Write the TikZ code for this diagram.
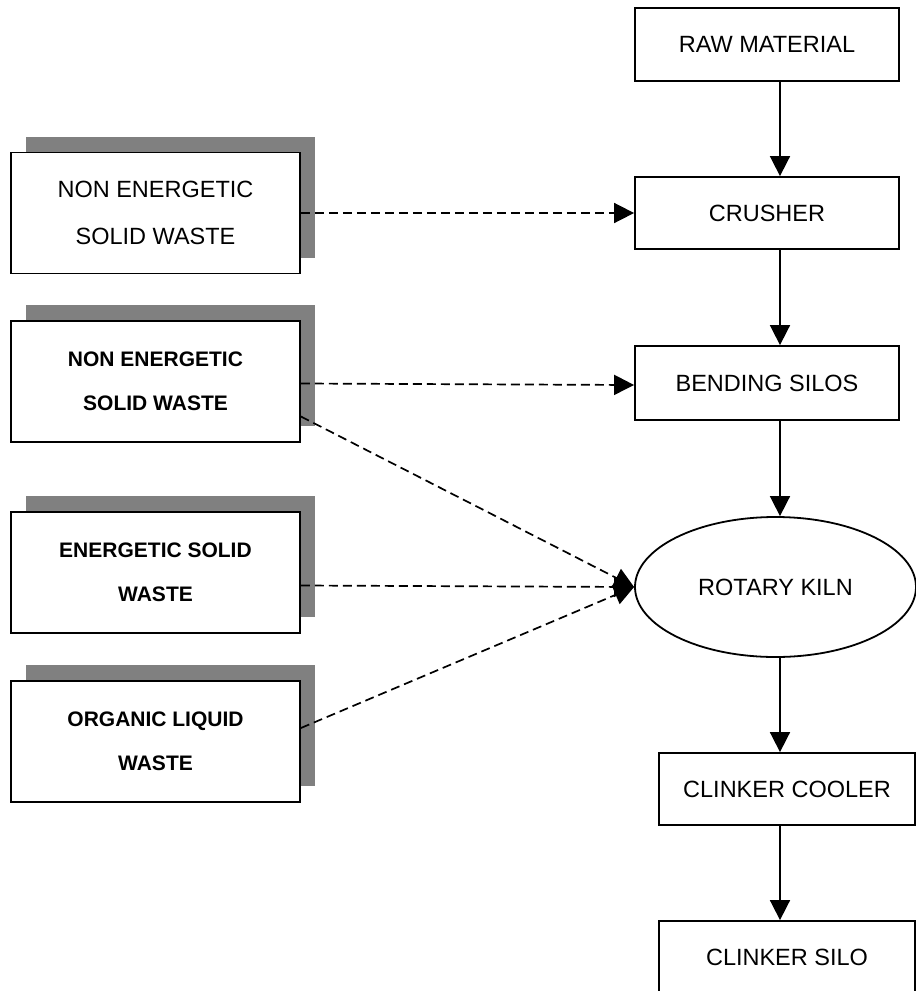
\documentclass[tikz,border=0pt]{standalone}
\usepackage{fontspec}
\setmainfont{Liberation Sans}
\usetikzlibrary{arrows.meta,shapes.geometric,shadows}
\definecolor{shadowgray}{RGB}{128,128,128}
\begin{document}
\begin{tikzpicture}[x=1pt,y=-1pt,
  proc/.style={draw, line width=1.8pt, rectangle, inner sep=0pt, fill=white,
    font=\fontsize{23.5}{28}\selectfont},
  waste/.style={draw, line width=1.8pt, fill=white, minimum width=289pt,
    minimum height=121pt, align=center, inner sep=0pt,
    drop shadow={shadow xshift=15pt, shadow yshift=16pt, opacity=1, fill=shadowgray}},
  light/.style={font=\fontsize{23.5}{47}\selectfont},
  heavy/.style={font=\fontsize{21}{44}\selectfont\bfseries},
  flow/.style={line width=1.7pt, -{Triangle[length=20pt,width=20pt]}},
  feed/.style={flow, dash pattern=on 9pt off 5pt}
]
\clip (0,0) rectangle (916,991);

% process column
\node[proc, minimum width=264pt, minimum height=73pt] (raw) at (767,44.5) {RAW MATERIAL};
\node[proc, minimum width=264pt, minimum height=72pt] (crusher) at (767,213) {CRUSHER};
\node[proc, minimum width=264pt, minimum height=74pt] (bend) at (767,383) {BENDING SILOS};
\node[draw, line width=1.8pt, ellipse, inner sep=0pt, minimum width=281pt, minimum height=140pt,
  font=\fontsize{23.5}{28}\selectfont] (kiln) at (775.5,587) {ROTARY KILN};
\node[proc, minimum width=256pt, minimum height=72pt] (cooler) at (787,789) {CLINKER COOLER};
\node[proc, minimum width=256pt, minimum height=72pt] (silo) at (787,957) {CLINKER SILO};
\coordinate (col) at (780,0);

% waste boxes
\node[waste, light] (w1) at (155.5,213) {NON ENERGETIC\\SOLID WASTE};
\node[waste, heavy] (w2) at (155.5,381.5) {NON ENERGETIC\\SOLID WASTE};
\node[waste, heavy] (w3) at (155.5,572.5) {ENERGETIC SOLID\\WASTE};
\node[waste, heavy] (w4) at (155.5,741.5) {ORGANIC LIQUID\\WASTE};

% main flow
\draw[flow] (raw.south -| col) -- (crusher.north -| col);
\draw[flow] (crusher.south -| col) -- (bend.north -| col);
\draw[flow] (bend.south -| col) -- (kiln.north -| col);
\draw[flow] (kiln.south -| col) -- (cooler.north -| col);
\draw[flow] (cooler.south -| col) -- (silo.north -| col);

% feeds
\draw[feed] (w1.east) -- (crusher.west);
\draw[feed] ([yshift=-2pt]w2.east) -- ([yshift=-2pt]bend.west);
\draw[feed] ([yshift=-35pt]w2.east) -- (kiln.west);
\draw[feed] ([yshift=-13pt]w3.east) -- (kiln.west);
\draw[feed] ([yshift=13.5pt]w4.east) -- (kiln.west);
\end{tikzpicture}
\end{document}
